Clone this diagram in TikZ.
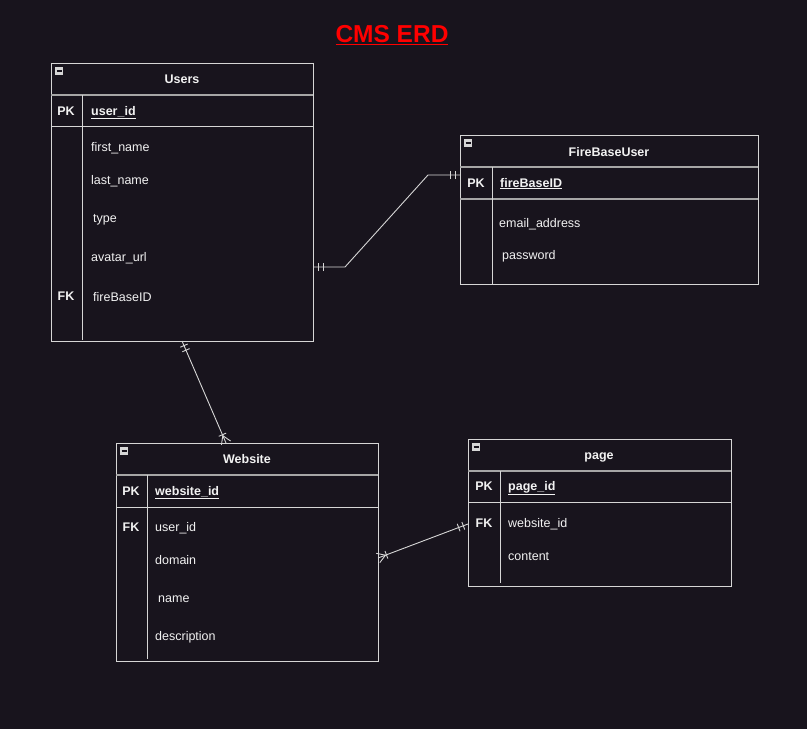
\documentclass[tikz,border=0pt]{standalone}
\usepackage{fontspec}
\setmainfont{Liberation Sans}
\usetikzlibrary{decorations.markings}
\definecolor{bgdark}{HTML}{18141D}
\definecolor{txtw}{HTML}{F2F2F2}
\definecolor{edgegray}{HTML}{D6D6D6}
\definecolor{sepgray}{HTML}{A6A6A6}
\definecolor{titlered}{HTML}{FF0000}
\tikzset{
  barsA/.style={postaction={decorate,decoration={markings,
    mark=at position 5pt with {\draw[edgegray,line width=.9pt] (0,-4pt) -- (0,4pt);},
    mark=at position 10pt with {\draw[edgegray,line width=.9pt] (0,-4pt) -- (0,4pt);}}}},
  barsB/.style={postaction={decorate,decoration={markings,
    mark=at position -5pt with {\draw[edgegray,line width=.9pt] (0,-4pt) -- (0,4pt);},
    mark=at position -10pt with {\draw[edgegray,line width=.9pt] (0,-4pt) -- (0,4pt);}}}},
  crowA/.style={postaction={decorate,decoration={markings,
    mark=at position 8pt with {\draw[edgegray,line width=.9pt] (0,0) -- (-8pt,5pt) (0,0) -- (-8pt,-5pt);},
    mark=at position 9pt with {\draw[edgegray,line width=.9pt] (0,-4pt) -- (0,4pt);}}}},
  crowB/.style={postaction={decorate,decoration={markings,
    mark=at position -8pt with {\draw[edgegray,line width=.9pt] (0,0) -- (8pt,5pt) (0,0) -- (8pt,-5pt);},
    mark=at position -9pt with {\draw[edgegray,line width=.9pt] (0,-4pt) -- (0,4pt);}}}}
}
\begin{document}
\begin{tikzpicture}[x=1pt,y=-1pt,
  tbl/.style={draw=edgegray,line width=1pt,rectangle,inner sep=0pt,anchor=north west},
  txt/.style={text=txtw,inner sep=0pt,text height=9pt,text depth=3pt},
  hdr/.style={txt,font=\fontsize{12.5}{14}\selectfont\bfseries},
  keyl/.style={txt,font=\fontsize{12.5}{14}\selectfont\bfseries},
  fld/.style={txt,anchor=west,font=\fontsize{12.5}{14}\selectfont},
  pkf/.style={fld,font=\fontsize{12.5}{14}\selectfont\bfseries},
  sepline/.style={sepgray,line width=1.5pt},
  rowline/.style={edgegray,line width=1pt},
  conn/.style={edgegray,line width=.9pt}]
\fill[bgdark] (0,0) rectangle (807,729);
\useasboundingbox (0,0) rectangle (807,729);

% title
\node[text=titlered,font=\fontsize{24.5}{28}\selectfont\bfseries] (title) at (392,35) {\underline{CMS ERD}};

% Users
\node[tbl,minimum width=262pt,minimum height=278pt] (users) at (51,63) {};
\fill[edgegray] (55,67) rectangle (63,75);
\draw[bgdark,line width=1.2pt] (56.5,71) -- (61.5,71);
\draw[sepline] (51,95) -- (313,95);
\draw[rowline] (51,126) -- (313,126);
\draw[rowline] (82,95) -- (82,340);
\node[hdr] (usersT) at (182,80) {Users};
\node[keyl] (usersPK) at (66,112) {PK};
\node[pkf] (usersId) at (91,112) {\underline{user\_id}};
\node[fld] (usersF1) at (91,148) {first\_name};
\node[fld] (usersF2) at (91,181) {last\_name};
\node[fld] (usersF3) at (93,219) {type};
\node[fld] (usersF4) at (91,258) {avatar\_url};
\node[keyl] (usersFK) at (66,297) {FK};
\node[fld] (usersF5) at (93,298) {fireBaseID};

% FireBaseUser
\node[tbl,minimum width=298pt,minimum height=149pt] (fbuser) at (460,135) {};
\fill[edgegray] (464,139) rectangle (472,147);
\draw[bgdark,line width=1.2pt] (465.5,143) -- (470.5,143);
\draw[sepline] (460,167) -- (758,167);
\draw[sepline] (460,199) -- (758,199);
\draw[rowline] (492,167) -- (492,284);
\node[hdr] (fbT) at (609,153) {FireBaseUser};
\node[keyl] (fbPK) at (476,184) {PK};
\node[pkf] (fbId) at (500,184) {\underline{fireBaseID}};
\node[fld] (fbF1) at (499,224) {email\_address};
\node[fld] (fbF2) at (502,256) {password};

% Website
\node[tbl,minimum width=262pt,minimum height=218pt] (website) at (116,443) {};
\fill[edgegray] (120,447) rectangle (128,455);
\draw[bgdark,line width=1.2pt] (121.5,451) -- (126.5,451);
\draw[sepline] (116,475) -- (378,475);
\draw[rowline] (116,507) -- (378,507);
\draw[rowline] (147,475) -- (147,659);
\node[hdr] (webT) at (247,460) {Website};
\node[keyl] (webPK) at (131,492) {PK};
\node[pkf] (webId) at (155,492) {\underline{website\_id}};
\node[keyl] (webFK) at (131,528) {FK};
\node[fld] (webF1) at (155,528) {user\_id};
\node[fld] (webF2) at (155,561) {domain};
\node[fld] (webF3) at (158,599) {name};
\node[fld] (webF4) at (155,637) {description};

% page
\node[tbl,minimum width=263pt,minimum height=147pt] (page) at (468,439) {};
\fill[edgegray] (472,443) rectangle (480,451);
\draw[bgdark,line width=1.2pt] (473.5,447) -- (478.5,447);
\draw[sepline] (468,471) -- (731,471);
\draw[rowline] (468,502) -- (731,502);
\draw[rowline] (500,471) -- (500,583);
\node[hdr] (pageT) at (599,456) {page};
\node[keyl] (pagePK) at (484,487) {PK};
\node[pkf] (pageId) at (508,487) {\underline{page\_id}};
\node[keyl] (pageFK) at (484,524) {FK};
\node[fld] (pageF1) at (508,524) {website\_id};
\node[fld] (pageF2) at (508,557) {content};

% relations
\coordinate (usersR) at (313,267);
\coordinate (fbL) at (460,175);
\coordinate (usersB) at (182,341);
\coordinate (webTop) at (226,443);
\coordinate (webR) at (378,558);
\coordinate (pageL) at (468,524);
\draw[conn,barsA,barsB] (usersR) -- ++(32,0) -- ([xshift=-32pt]fbL) -- (fbL);
\draw[conn,barsA,crowB] (usersB) -- (webTop);
\draw[conn,crowA,barsB] (webR) -- (pageL);
\end{tikzpicture}
\end{document}
